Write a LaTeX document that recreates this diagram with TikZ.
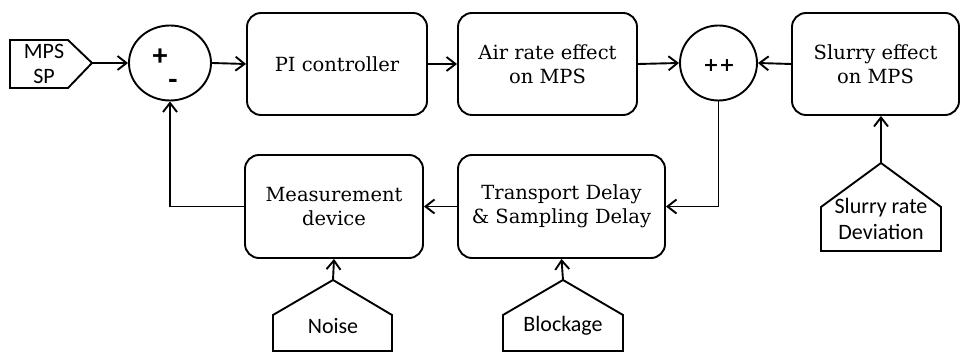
\documentclass[tikz,border=0pt]{standalone}
\usepackage{fontspec}
\setmainfont{DejaVu Serif}
\newfontfamily\inputfont{Carlito}
\usetikzlibrary{arrows.meta,shapes.geometric}

\tikzset{
  block/.style={draw, rounded corners=14pt, minimum height=102pt, align=center,
    inner sep=0pt, font=\fontsize{19.5}{23.5}\selectfont},
  sumnode/.style={draw, ellipse, minimum width=82pt, minimum height=75pt, inner sep=0pt},
  inlabel/.style={align=center, inner sep=0pt, font=\inputfont\fontsize{22}{25.5}\selectfont},
  signlabel/.style={inner sep=0pt, font=\inputfont\bfseries\fontsize{30}{30}\selectfont},
  flow/.style={-{Straight Barb[length=9pt,width=14pt]}},
}

\begin{document}
\begin{tikzpicture}[x=1pt,y=-1pt,line width=1.9pt]
    \useasboundingbox (0,0) rectangle (961,352);
    % top row
    \node[sumnode] (sum1) at (170,63) {};
    \node[signlabel] (plus) at (160,57) {+};
    \node[signlabel] (minus) at (173,84) {-};
    \node[block, minimum width=180pt] (pi) at (337,64) {PI controller};
    \node[block, minimum width=179pt] (air) at (547.5,64) {Air rate effect\\on MPS};
    \node[sumnode, minimum width=77pt] (sum2) at (718.5,63) {};
    \node[font=\fontsize{19}{23}\selectfont\bfseries] (pp) at (719,66) {++};
    \node[block, minimum width=167pt] (slurry) at (875.5,64) {Slurry effect\\on MPS};
    % bottom row
    \node[block, minimum width=178pt, minimum height=103pt] (meas) at (334,206.5) {Measurement\\device};
    \node[block, minimum width=207pt, minimum height=103pt] (trans) at (561.5,206.5) {Transport Delay\\\& Sampling Delay};
    % input shapes
    \draw (10,40) -- (68,40) -- (92,63) coordinate (sp-tip) -- (68,88) -- (10,88) -- cycle;
    \node[inlabel] (sp) at (44,64) {MPS\\SP};
    \draw (273,351) -- (273,315) -- (333,280) coordinate (noise-top) -- (392,315) -- (392,351) -- cycle;
    \node[inlabel] (noise) at (333,326) {Noise};
    \draw (503,351) -- (503,315) -- (563,280) coordinate (block-top) -- (623,315) -- (623,351) -- cycle;
    \node[inlabel] (blockage) at (563,326) {Blockage};
    \draw (821,251) -- (821,207) -- (881,163) coordinate (dev-top) -- (941,207) -- (941,251) -- cycle;
    \node[inlabel] (dev) at (881,219) {Slurry rate\\Deviation};
    % connectors
    \draw[flow] (sp-tip) -- (sum1.west);
    \draw[flow] (sum1.east) -- (pi.west);
    \draw[flow] (pi.east) -- (air.west);
    \draw[flow] (air.east) -- (sum2.west);
    \draw[flow] (slurry.west) -- (sum2.east);
    \draw[flow] (sum2.south) |- (trans.east);
    \draw[flow] (trans.west) -- (meas.east);
    \draw[flow] (meas.west) -| (sum1.south);
    \draw[flow] (noise-top) -- (meas.south);
    \draw[flow] (block-top) -- (trans.south);
    \draw[flow] (dev-top) -- (dev-top |- slurry.south);
\end{tikzpicture}
\end{document}
